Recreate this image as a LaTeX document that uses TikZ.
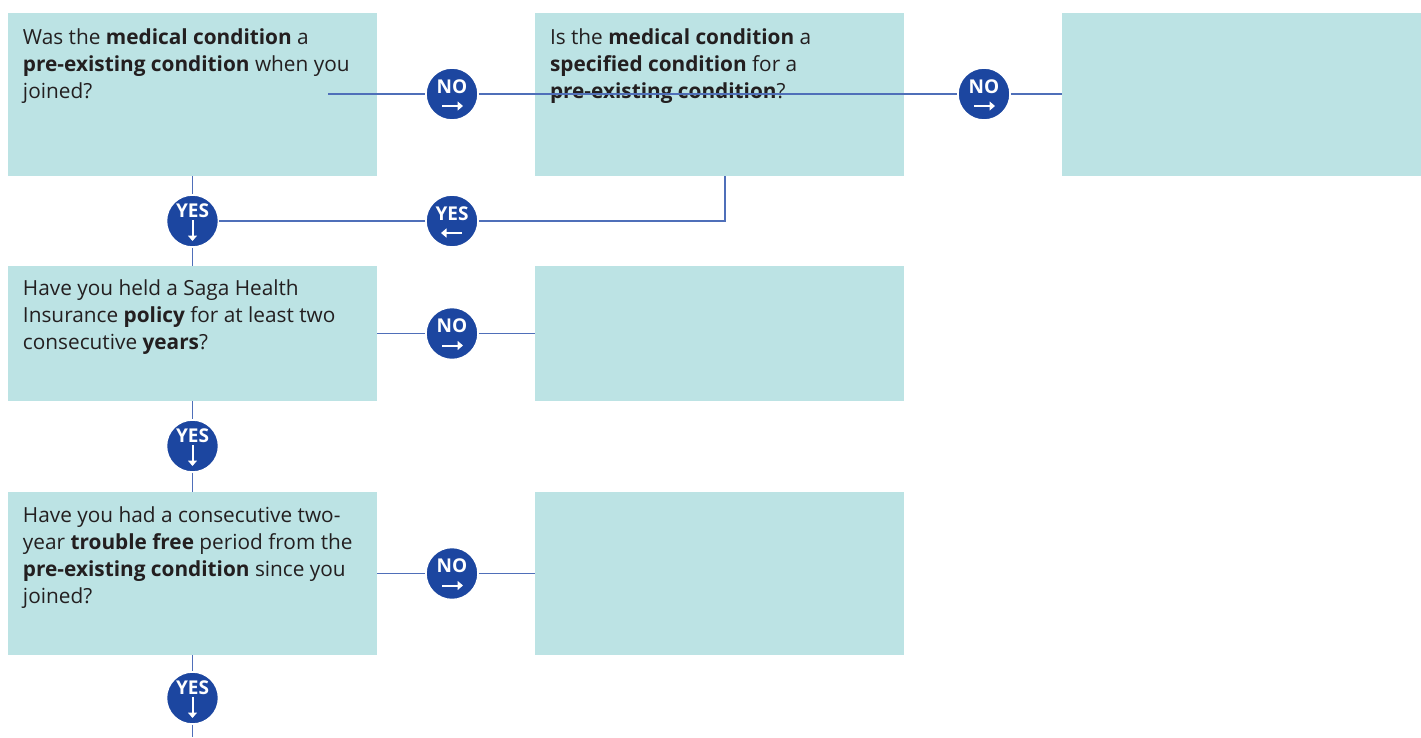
\documentclass[tikz,border=0pt]{standalone}
\usepackage{fontspec}
\setmainfont{Open Sans}
\usetikzlibrary{arrows.meta}
\definecolor{boxteal}{HTML}{BCE3E4}
\definecolor{badgeblue}{HTML}{1C46A0}
\definecolor{linkblue}{HTML}{4F6FB9}
\definecolor{inkgrey}{HTML}{231F20}

\begin{document}
\begin{tikzpicture}[x=1pt, y=-1pt,
    box/.style={rectangle, fill=boxteal, inner sep=0pt, minimum width=369pt, minimum height=163pt},
    qtext/.style={anchor=north west, inner sep=0pt, align=left, text=inkgrey, font=\fontsize{20.8}{27}\selectfont},
    link/.style={draw=linkblue, line width=1.2pt},
    badge/.style={circle, fill=badgeblue, draw=white, line width=1.5pt, minimum size=52pt, inner sep=0pt, text=white, font=\fontsize{19}{19}\selectfont\bfseries, text height=13pt, text depth=15pt},
    tip/.style={draw=white, line width=2pt, -{Triangle[length=5.5pt,width=9pt]}},
    nobadge/.style={badge, path picture={\draw[tip] ([xshift=-10pt,yshift=-12pt]path picture bounding box.center) -- ++(21pt,0pt);}},
    yesleft/.style={badge, path picture={\draw[tip] ([xshift=10pt,yshift=-12pt]path picture bounding box.center) -- ++(-21pt,0pt);}},
    yesdown/.style={badge, text depth=20pt, path picture={\draw[tip] ([yshift=1pt]path picture bounding box.center) -- ++(0pt,-21pt);}},
]

\useasboundingbox (0,0) rectangle (1421,737);

% answer boxes
\node[box] (b1) at (192.5,94.5) {};
\node[box] (b2) at (719.5,94.5) {};
\node[box, minimum width=359pt] (b3) at (1241.5,94.5) {};
\node[box, minimum height=135pt] (b4) at (192.5,333.5) {};
\node[box, minimum height=135pt] (b5) at (719.5,333.5) {};
\node[box] (b6) at (192.5,573.5) {};
\node[box] (b7) at (719.5,573.5) {};

\node[qtext] (t1) at ([shift={(15,16)}]b1.north west) {Was the \textbf{medical condition} a\\ \textbf{pre-existing condition} when you\\ joined?};
\node[qtext] (t2) at ([shift={(15,16)}]b2.north west) {Is the \textbf{medical condition} a\\ \textbf{specified condition} for a\\ \textbf{pre-existing condition}?};
\node[qtext] (t4) at ([shift={(15,14)}]b4.north west) {Have you held a Saga Health\\ Insurance \textbf{policy} for at least two\\ consecutive \textbf{years}?};
\node[qtext] (t6) at ([shift={(15,15)}]b6.north west) {Have you had a consecutive two-\\ year \textbf{trouble free} period from the\\ \textbf{pre-existing condition} since you\\ joined?};

% badges
\node[nobadge] (no1) at (452,94) {NO};
\node[nobadge] (no2) at (984,94) {NO};
\node[yesdown] (yes1) at (192.5,221) {YES};
\node[yesleft] (yes2) at (452,221) {YES};
\node[nobadge] (no3) at (452,333.5) {NO};
\node[yesdown] (yes3) at (192.5,446) {YES};
\node[nobadge] (no4) at (452,573.5) {NO};
\node[yesdown] (yes4) at (192.5,698) {YES};

\coordinate (start) at (328,94);
\coordinate (end) at (192.5,737);

\draw[link] (start) -- (no1) -- (no2) -- (no2 -| b3.west);
\draw[link] (b1.south) -- (yes1) -- (b4.north);
\draw[link] ([xshift=5.5pt]b2.south) |- (yes2);
\draw[link] (yes2) -- (yes1);
\draw[link] (b4.east) -- (no3) -- (b5.west);
\draw[link] (b4.south) -- (yes3) -- (b6.north);
\draw[link] (b6.east) -- (no4) -- (b7.west);
\draw[link] (b6.south) -- (yes4) -- (end);

\end{tikzpicture}
\end{document}
